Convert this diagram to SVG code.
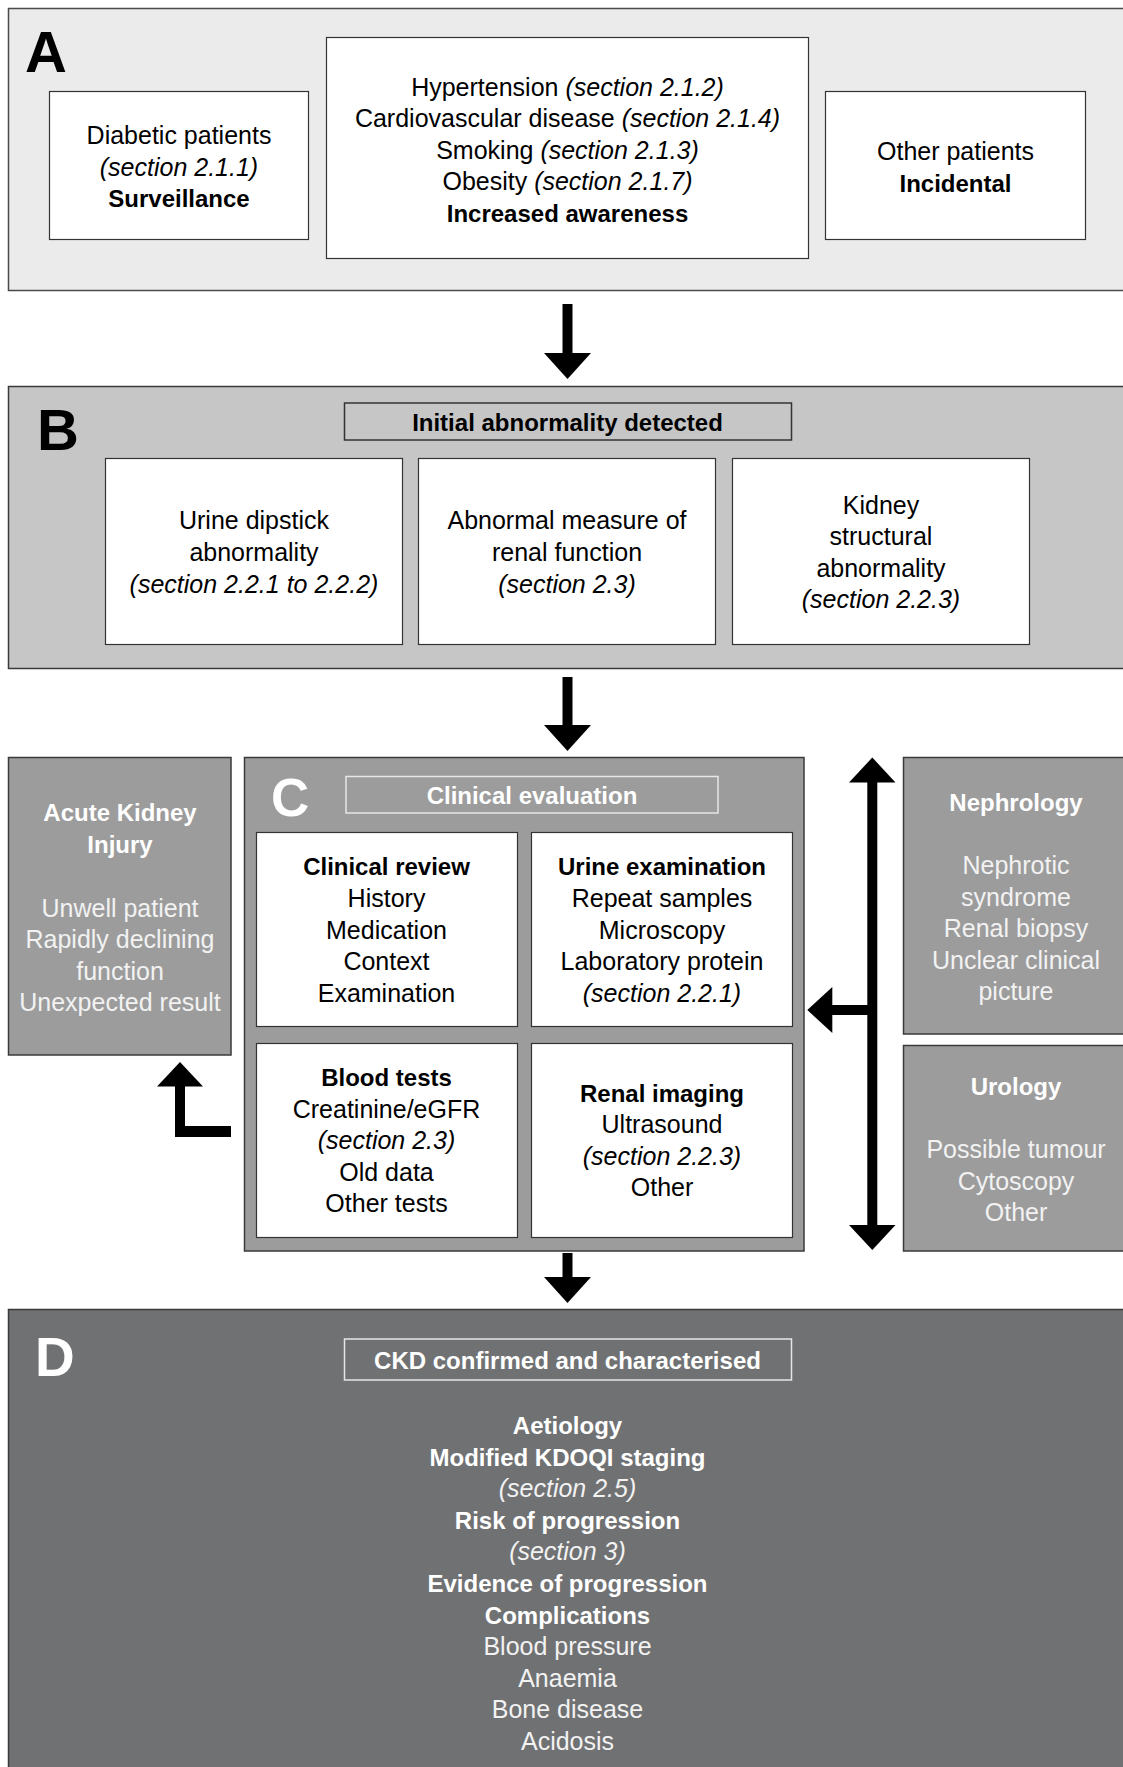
<svg xmlns="http://www.w3.org/2000/svg" width="1123" height="1767" viewBox="0 0 1123 1767">
<defs>
<style>
text{font-family:"Liberation Sans",Arial,sans-serif;font-size:25px;text-anchor:middle}
.b{font-weight:bold;font-size:24px}
.i{font-style:italic}
.big{font-size:58px;font-weight:bold;text-anchor:start}
.w{fill:#ffffff}
.lw{fill:#f2f2f2}
.box{fill:#ffffff;stroke:#333333;stroke-width:1.2}
.mid{fill:#9c9c9c;stroke:#3a3a3a;stroke-width:1.5}
.arrow{fill:#000000}
</style>
</defs>
<rect x="0" y="0" width="1123" height="1767" fill="#ffffff"/>

<!-- Panel A -->
<g id="panelA">
<rect x="8.5" y="8.5" width="1130" height="282" fill="#eaebea" stroke="#4a4a4a" stroke-width="1.5"/>
<text class="big" x="25" y="72">A</text>
</g>
<g id="diabetic">
<rect class="box" x="49.5" y="91.5" width="259" height="148"/>
<text x="179" y="144">Diabetic patients</text>
<text x="179" y="176" class="i">(section 2.1.1)</text>
<text x="179" y="207" class="b">Surveillance</text>
</g>
<g id="risk">
<rect class="box" x="326.5" y="37.5" width="482" height="221"/>
<text x="567.5" y="95.5">Hypertension <tspan class="i">(section 2.1.2)</tspan></text>
<text x="567.5" y="127">Cardiovascular disease <tspan class="i">(section 2.1.4)</tspan></text>
<text x="567.5" y="158.5">Smoking <tspan class="i">(section 2.1.3)</tspan></text>
<text x="567.5" y="190">Obesity <tspan class="i">(section 2.1.7)</tspan></text>
<text x="567.5" y="221.5" class="b">Increased awareness</text>
</g>
<g id="other">
<rect class="box" x="825.5" y="91.5" width="260" height="148"/>
<text x="955.5" y="160">Other patients</text>
<text x="955.5" y="191.5" class="b">Incidental</text>
</g>

<!-- Panel B -->
<g id="panelB">
<rect x="8.5" y="386.5" width="1130" height="282" fill="#c6c6c6" stroke="#3a3a3a" stroke-width="1.5"/>
<text class="big" x="37" y="450">B</text>
<rect x="344.5" y="403" width="447" height="37" fill="none" stroke="#333333" stroke-width="1.5"/>
<text x="567.5" y="431" class="b">Initial abnormality detected</text>
</g>
<g id="dipstick">
<rect class="box" x="105.5" y="458.5" width="297" height="186"/>
<text x="254" y="529">Urine dipstick</text>
<text x="254" y="561">abnormality</text>
<text x="254" y="592.5" class="i">(section 2.2.1 to 2.2.2)</text>
</g>
<g id="renalfunction">
<rect class="box" x="418.5" y="458.5" width="297" height="186"/>
<text x="567" y="529">Abnormal measure of</text>
<text x="567" y="561">renal function</text>
<text x="567" y="592.5" class="i">(section 2.3)</text>
</g>
<g id="structural">
<rect class="box" x="732.5" y="458.5" width="297" height="186"/>
<text x="881" y="513.5">Kidney</text>
<text x="881" y="545">structural</text>
<text x="881" y="576.5">abnormality</text>
<text x="881" y="608" class="i">(section 2.2.3)</text>
</g>

<!-- Acute kidney injury -->
<g id="aki">
<rect class="mid" x="8.5" y="757.5" width="222.5" height="297.5"/>
<text x="120" y="821" class="b w">Acute Kidney</text>
<text x="120" y="852.5" class="b w">Injury</text>
<text x="120" y="917" class="lw">Unwell patient</text>
<text x="120" y="948" class="lw">Rapidly declining</text>
<text x="120" y="979.5" class="lw">function</text>
<text x="120" y="1010.5" class="lw">Unexpected result</text>
</g>

<!-- Panel C -->
<g id="panelC">
<rect class="mid" x="244.5" y="757.5" width="559.5" height="493.5"/>
<text class="big w" x="271" y="816" style="font-size:53px">C</text>
<rect x="346" y="776.5" width="372" height="36.5" fill="none" stroke="#e6e6e6" stroke-width="1.5"/>
<text x="532" y="804" class="b w">Clinical evaluation</text>
</g>
<g id="clinicalreview">
<rect class="box" x="256.5" y="832.5" width="261" height="194"/>
<text x="386.5" y="875" class="b">Clinical review</text>
<text x="386.5" y="907">History</text>
<text x="386.5" y="938.5">Medication</text>
<text x="386.5" y="970">Context</text>
<text x="386.5" y="1001.5">Examination</text>
</g>
<g id="urine">
<rect class="box" x="531.5" y="832.5" width="261" height="194"/>
<text x="662" y="875" class="b">Urine examination</text>
<text x="662" y="907">Repeat samples</text>
<text x="662" y="938.5">Microscopy</text>
<text x="662" y="970">Laboratory protein</text>
<text x="662" y="1001.5" class="i">(section 2.2.1)</text>
</g>
<g id="blood">
<rect class="box" x="256.5" y="1043.5" width="261" height="194"/>
<text x="386.5" y="1086" class="b">Blood tests</text>
<text x="386.5" y="1117.5">Creatinine/eGFR</text>
<text x="386.5" y="1149" class="i">(section 2.3)</text>
<text x="386.5" y="1180.5">Old data</text>
<text x="386.5" y="1212">Other tests</text>
</g>
<g id="imaging">
<rect class="box" x="531.5" y="1043.5" width="261" height="194"/>
<text x="662" y="1101.5" class="b">Renal imaging</text>
<text x="662" y="1133">Ultrasound</text>
<text x="662" y="1164.5" class="i">(section 2.2.3)</text>
<text x="662" y="1196">Other</text>
</g>

<!-- Nephrology / Urology -->
<g id="nephrology">
<rect class="mid" x="903.5" y="757.5" width="230" height="276.5"/>
<text x="1016" y="811" class="b w">Nephrology</text>
<text x="1016" y="874" class="lw">Nephrotic</text>
<text x="1016" y="905.5" class="lw">syndrome</text>
<text x="1016" y="937" class="lw">Renal biopsy</text>
<text x="1016" y="968.5" class="lw">Unclear clinical</text>
<text x="1016" y="1000" class="lw">picture</text>
</g>
<g id="urology">
<rect class="mid" x="903.5" y="1045.5" width="230" height="205.5"/>
<text x="1016" y="1095" class="b w">Urology</text>
<text x="1016" y="1158" class="lw">Possible tumour</text>
<text x="1016" y="1189.5" class="lw">Cytoscopy</text>
<text x="1016" y="1221" class="lw">Other</text>
</g>

<!-- Panel D -->
<g id="panelD">
<rect x="8.5" y="1309.5" width="1130" height="470" fill="#707173" stroke="#3a3a3a" stroke-width="1.5"/>
<text class="big w" x="35" y="1376" style="font-size:55px">D</text>
<rect x="344.5" y="1339" width="447" height="41" fill="none" stroke="#e6e6e6" stroke-width="1.5"/>
<text x="567.5" y="1368.5" class="b w">CKD confirmed and characterised</text>
<text x="567.5" y="1434" class="b w">Aetiology</text>
<text x="567.5" y="1465.6" class="b w">Modified KDOQI staging</text>
<text x="567.5" y="1497.2" class="i lw">(section 2.5)</text>
<text x="567.5" y="1528.8" class="b w">Risk of progression</text>
<text x="567.5" y="1560.4" class="i lw">(section 3)</text>
<text x="567.5" y="1592" class="b w">Evidence of progression</text>
<text x="567.5" y="1623.6" class="b w">Complications</text>
<text x="567.5" y="1655.2" class="lw">Blood pressure</text>
<text x="567.5" y="1686.8" class="lw">Anaemia</text>
<text x="567.5" y="1718.4" class="lw">Bone disease</text>
<text x="567.5" y="1750" class="lw">Acidosis</text>
</g>

<!-- Connectors -->
<g id="connectors" class="arrow">
<!-- A to B -->
<rect x="562.5" y="304" width="10" height="50"/>
<polygon points="544,353 591,353 567.5,379"/>
<!-- B to C -->
<rect x="562.5" y="677" width="10" height="49"/>
<polygon points="544,725 591,725 567.5,751"/>
<!-- C to D -->
<rect x="562.5" y="1253" width="10" height="25"/>
<polygon points="544,1277 591,1277 567.5,1303"/>
<!-- double vertical arrow -->
<rect x="867.3" y="781" width="10" height="445"/>
<polygon points="849,782.5 895.5,782.5 872.3,757.5"/>
<polygon points="849,1225 895.5,1225 872.3,1250"/>
<!-- branch to C -->
<rect x="831" y="1005" width="38" height="10"/>
<polygon points="832.3,987 832.3,1033 807.3,1010"/>
<!-- L arrow to AKI -->
<rect x="175" y="1085" width="10" height="52"/>
<rect x="175" y="1126" width="56" height="11"/>
<polygon points="157,1086.5 203,1086.5 180,1062"/>
</g>
</svg>
